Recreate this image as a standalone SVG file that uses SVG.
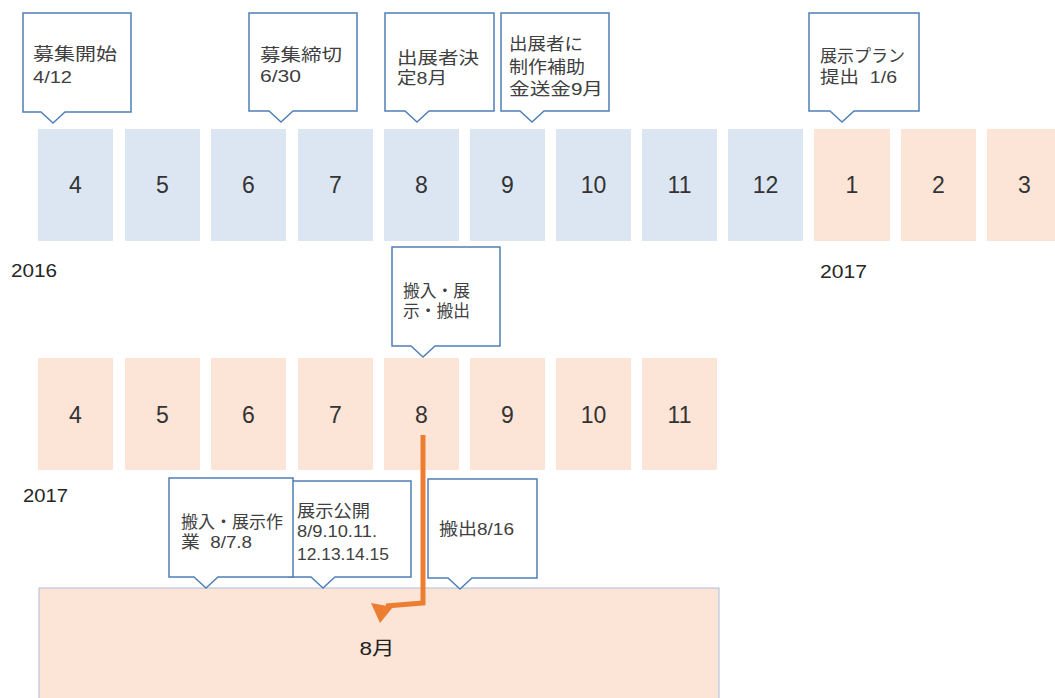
<svg xmlns="http://www.w3.org/2000/svg" width="1055" height="698" viewBox="0 0 1055 698">
<style>
.bl{fill:#dce6f2}
.or{fill:#fce4d6}
.num{font-family:"Liberation Sans",Arial,sans-serif;font-size:23px;fill:#333;text-anchor:middle}
.yr{font-family:"Liberation Sans",Arial,sans-serif;font-size:18px;fill:#262626}
.co{fill:#fff;stroke:#4f7fb5;stroke-width:1.5}
.ct{font-family:"Liberation Sans","Noto Sans CJK JP",sans-serif;font-size:17px;fill:#404040;white-space:pre}
.big{fill:#fce4d6;stroke:#a9c0dc;stroke-width:1}
.lbl{font-family:"Liberation Sans","Noto Sans CJK JP",sans-serif;font-size:19px;fill:#222;text-anchor:middle}
</style>
<rect width="1055" height="698" fill="#fff"/>

<g id="row2016">
<rect class="bl" x="38" y="129" width="75" height="112"/><text class="num" x="75.5" y="193">4</text>
<rect class="bl" x="125" y="129" width="75" height="112"/><text class="num" x="162.5" y="193">5</text>
<rect class="bl" x="211" y="129" width="75" height="112"/><text class="num" x="248.5" y="193">6</text>
<rect class="bl" x="298" y="129" width="75" height="112"/><text class="num" x="335.5" y="193">7</text>
<rect class="bl" x="384" y="129" width="75" height="112"/><text class="num" x="421.5" y="193">8</text>
<rect class="bl" x="470" y="129" width="75" height="112"/><text class="num" x="507.5" y="193">9</text>
<rect class="bl" x="556" y="129" width="75" height="112"/><text class="num" x="593.5" y="193">10</text>
<rect class="bl" x="642" y="129" width="75" height="112"/><text class="num" x="679.5" y="193">11</text>
<rect class="bl" x="728" y="129" width="75" height="112"/><text class="num" x="765.5" y="193">12</text>
<rect class="or" x="814" y="129" width="76" height="112"/><text class="num" x="852" y="193">1</text>
<rect class="or" x="901" y="129" width="75" height="112"/><text class="num" x="938.5" y="193">2</text>
<rect class="or" x="987" y="129" width="75" height="112"/><text class="num" x="1024.5" y="193">3</text>
</g>
<g id="year2016"><text class="yr" x="11" y="277" textLength="46" lengthAdjust="spacingAndGlyphs">2016</text></g>
<g id="year2017a"><text class="yr" x="820" y="278" textLength="47" lengthAdjust="spacingAndGlyphs">2017</text></g>

<g id="row2017">
<rect class="or" x="38" y="358" width="75" height="112"/><text class="num" x="75.5" y="423">4</text>
<rect class="or" x="125" y="358" width="75" height="112"/><text class="num" x="162.5" y="423">5</text>
<rect class="or" x="211" y="358" width="75" height="112"/><text class="num" x="248.5" y="423">6</text>
<rect class="or" x="298" y="358" width="75" height="112"/><text class="num" x="335.5" y="423">7</text>
<rect class="or" x="384" y="358" width="75" height="112"/><text class="num" x="421.5" y="423">8</text>
<rect class="or" x="470" y="358" width="75" height="112"/><text class="num" x="507.5" y="423">9</text>
<rect class="or" x="556" y="358" width="75" height="112"/><text class="num" x="593.5" y="423">10</text>
<rect class="or" x="642" y="358" width="75" height="112"/><text class="num" x="679.5" y="423">11</text>
</g>
<g id="year2017b"><text class="yr" x="23" y="502" textLength="45" lengthAdjust="spacingAndGlyphs">2017</text></g>

<g id="august">
<rect class="big" x="39" y="588" width="680" height="120"/>
<text class="lbl" x="377" y="655" textLength="35" lengthAdjust="spacingAndGlyphs">8月</text>
</g>

<g id="c-start">
<path class="co" d="M23 13H131V112H65L53 123L41 112H23Z"/>
<text class="ct" x="33" y="60" textLength="84" lengthAdjust="spacingAndGlyphs">募集開始</text>
<text class="ct" x="33" y="83" textLength="39" lengthAdjust="spacingAndGlyphs">4/12</text>
</g>
<g id="c-close">
<path class="co" d="M249 13H357V111H293L281 122L269 111H249Z"/>
<text class="ct" x="260" y="61" textLength="82" lengthAdjust="spacingAndGlyphs">募集締切</text>
<text class="ct" x="260" y="82" textLength="41" lengthAdjust="spacingAndGlyphs">6/30</text>
</g>
<g id="c-decide">
<path class="co" d="M385 13H494V111H429L417 122L405 111H385Z"/>
<text class="ct" x="397" y="64" textLength="82" lengthAdjust="spacingAndGlyphs">出展者決</text>
<text class="ct" x="397" y="84" textLength="50" lengthAdjust="spacingAndGlyphs">定8月</text>
</g>
<g id="c-grant">
<path class="co" d="M501 13H609V111H544L532 122L520 111H501Z"/>
<text class="ct" x="509" y="50" textLength="74" lengthAdjust="spacingAndGlyphs">出展者に</text>
<text class="ct" x="509" y="73" textLength="76" lengthAdjust="spacingAndGlyphs">制作補助</text>
<text class="ct" x="509" y="95" textLength="94" lengthAdjust="spacingAndGlyphs">金送金9月</text>
</g>
<g id="c-plan">
<path class="co" d="M809 13H919V111H854L842 122L830 111H809Z"/>
<text class="ct" x="820" y="62" textLength="85" lengthAdjust="spacingAndGlyphs">展示プラン</text>
<text class="ct" x="820" y="83" textLength="77" lengthAdjust="spacingAndGlyphs" xml:space="preserve">提出  1/6</text>
</g>
<g id="c-mid">
<path class="co" d="M392 247H500V346H435L423 357L411 346H392Z"/>
<text class="ct" x="403" y="297" textLength="67" lengthAdjust="spacingAndGlyphs">搬入・展</text>
<text class="ct" x="403" y="317" textLength="67" lengthAdjust="spacingAndGlyphs">示・搬出</text>
</g>
<g id="c-open">
<path class="co" d="M289 481H411V577H335L323 588L311 577H289Z"/>
<text class="ct" x="297" y="517" textLength="73" lengthAdjust="spacingAndGlyphs">展示公開</text>
<text class="ct" x="297" y="537" textLength="80" lengthAdjust="spacingAndGlyphs">8/9.10.11.</text>
<text class="ct" x="297" y="560" textLength="92" lengthAdjust="spacingAndGlyphs">12.13.14.15</text>
</g>
<g id="c-install">
<path class="co" d="M169 478H293V577H218L206 588L194 577H169Z"/>
<text class="ct" x="181" y="528" textLength="102" lengthAdjust="spacingAndGlyphs">搬入・展示作</text>
<text class="ct" x="181" y="548" textLength="71" lengthAdjust="spacingAndGlyphs" xml:space="preserve">業  8/7.8</text>
</g>
<g id="c-remove">
<path class="co" d="M428 479H537V578H472L460 589L448 578H428Z"/>
<text class="ct" x="439" y="535" textLength="75" lengthAdjust="spacingAndGlyphs">搬出8/16</text>
</g>

<g id="connectors">
<path d="M423 435V603L386 606" fill="none" stroke="#ed7d31" stroke-width="5" stroke-linejoin="miter"/>
<polygon points="371,603 393,607 380,623" fill="#ed7d31"/>
</g>
</svg>
